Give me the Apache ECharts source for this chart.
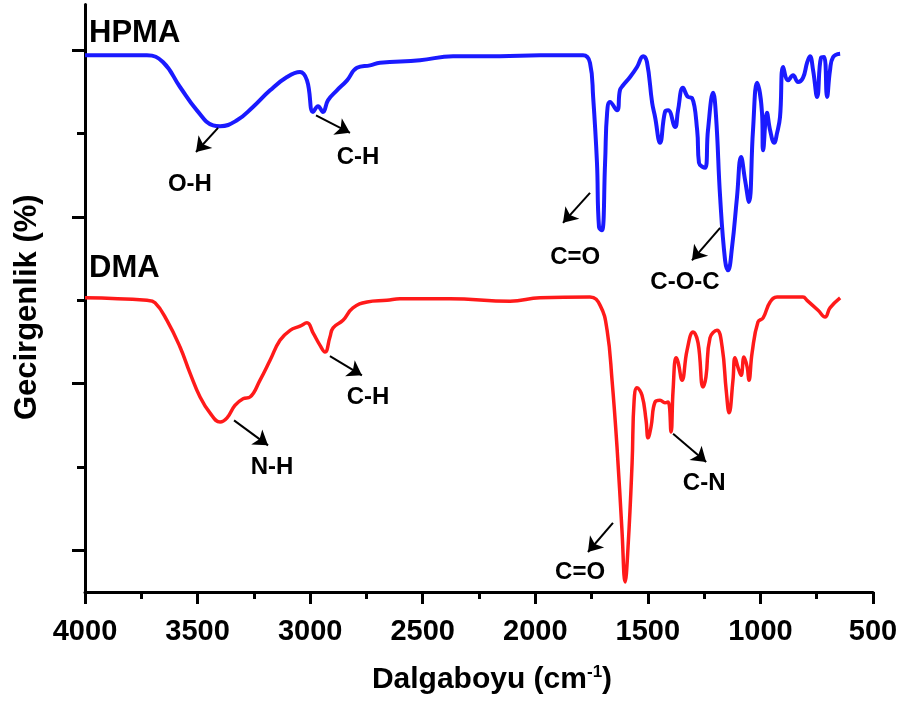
<!DOCTYPE html>
<html lang="tr">
<head>
    <meta charset="UTF-8">
    <title>FTIR HPMA / DMA</title>
    <style>
        html,body{margin:0;padding:0;background:#fff}
        #chart{width:904px;height:701px}
    </style>
</head>
<body>
<div id="chart"></div>
<script src="https://cdn.jsdelivr.net/npm/echarts@6/dist/echarts.min.js"></script>
<script>
    // HPMA (mavi) - dalga sayisi / gecirgenlik (keyfi birim)
    var hpmaX = [4000,3725,3654,3578,3503,3431,3400,3325,3254,3178,3103,3045,3014,2987,2965,2943,2921,2881,2836,2792,2734,2690,2512,2365,2157,1979,1788,1757,1743,1726,1717,1704,1690,1681,1668,1637,1624,1610,1579,1548,1521,1504,1481,1468,1446,1424,1410,1379,1366,1344,1321,1304,1281,1273,1246,1233,1210,1197,1179,1157,1144,1126,1104,1086,1068,1051,1033,1015,993,988,971,957,939,926,913,899,877,855,833,811,793,780,766,748,731,717,704,691,677,646];
    var hpmaY = [64.4,64.4,63.6,60.6,57.8,56.0,55.9,56.6,58.2,60.2,61.8,62.4,61.4,57.6,58.3,57.6,59.0,60.2,61.4,62.9,63.2,63.5,63.8,64.3,64.3,64.4,64.4,63.5,59.4,51.5,43.8,43.4,51.5,57.5,58.8,57.8,60.2,60.8,61.8,63.0,64.3,63.6,58.7,57.0,53.9,57.6,57.8,55.8,57.8,60.5,59.4,59.3,55.4,51.5,50.9,55.4,59.9,57.0,47.4,39.8,38.6,41.4,47.4,52.2,49.4,46.8,55.4,61.1,57.5,53.0,57.5,55.4,53.9,55.1,57.0,63.0,61.4,62.0,61.2,61.7,63.5,64.3,62.6,59.4,64.1,64.2,59.4,62.6,64.2,64.6];
    // DMA (kirmizi)
    var dmaX = [4000,3725,3689,3636,3578,3534,3489,3445,3400,3369,3334,3298,3267,3223,3178,3134,3089,3045,3014,2987,2956,2934,2912,2898,2854,2810,2747,2659,2601,2379,2112,1979,1757,1712,1681,1659,1637,1615,1601,1588,1570,1561,1548,1526,1508,1499,1486,1468,1446,1424,1410,1397,1388,1375,1366,1348,1326,1299,1277,1255,1242,1224,1193,1170,1152,1139,1122,1113,1099,1086,1073,1059,1051,1037,1011,988,957,926,811,793,744,713,691,646];
    var dmaY = [35.3,35.0,34.7,32.6,29.4,26.3,23.4,21.5,20.4,20.9,22.4,23.2,23.4,25.4,27.8,30.2,31.4,31.9,32.3,31.1,29.6,28.8,30.6,31.7,32.6,34.1,34.8,35.0,35.2,35.2,34.9,35.3,35.4,34.4,31.4,25.4,17.4,7.4,1.2,5.4,15.5,23.0,24.5,23.6,20.6,18.5,19.8,22.8,23.0,22.7,22.8,19.2,24.2,28.1,27.6,25.4,29.0,31.2,29.9,24.6,25.8,30.5,31.4,29.4,24.2,21.5,25.4,28.1,26.9,26.0,28.2,27.0,25.4,28.7,32.4,32.9,34.8,35.4,35.4,35.0,33.8,33.0,34.1,35.3];

    var yMajor = [5, 25, 45, 65];
    var yMinor = [15, 35, 55];

    // pik etiketleri: [ok baslangici, ok ucu, yazi yeri]
    var peakNames = ['O-H', 'C-H', 'C=O', 'C-O-C', 'N-H', 'C-H', 'C-N', 'C=O'];
    var arrowFrom = [[3409,55.7],[2974,57.2],[1757,47.9],[1179,43.7],[3338,20.6],[2912,28.3],[1388,19.0],[1655,8.3]];
    var arrowTo   = [[3507,52.8],[2823,55.1],[1877,44.3],[1304,39.8],[3187,17.6],[2770,26.0],[1241,15.6],[1766,4.8]];
    var labelAt   = [[3534,48.9],[2787,52.2],[1823,40.2],[1335,37.1],[3169,15.0],[2743,23.4],[1250,13.0],[1801,2.4]];

    var sampleNames = ['HPMA', 'DMA'];
    var sampleAt = [[3982,67.0],[3982,38.8]];

    var fontBold = 'Liberation Sans, Arial, sans-serif';

    function zip(xs, ys) {
        var out = [];
        for (var i = 0; i < xs.length; i++) out.push([xs[i], ys[i]]);
        return out;
    }

    var arrows = [];
    for (var i = 0; i < arrowFrom.length; i++) {
        arrows.push([{coord: arrowFrom[i]}, {coord: arrowTo[i]}]);
    }

    var yAxisBase = {
        type: 'value', min: 0, max: 70.5, position: 'left',
        splitLine: {show: false},
        axisLabel: {show: false}
    };

    var option = {
        animation: false,
        backgroundColor: '#fff',
        grid: {left: 85, right: 31, top: 4.5, bottom: 109, outerBoundsMode: 'none', containLabel: false},
        xAxis: {
            type: 'value', inverse: true, min: 500, max: 4000, interval: 500,
            name: '{t|Dalgaboyu (cm}{s|-1}{t|)}',
            nameLocation: 'middle', nameGap: 72,
            nameTextStyle: {
                padding: [0, 0, 0, 26],
                rich: {
                    t: {fontSize: 30, fontWeight: 'bold', fontFamily: fontBold, color: '#000'},
                    s: {fontSize: 17, fontWeight: 'bold', fontFamily: fontBold, color: '#000', verticalAlign: 'top', padding: [0, 0, 15, 0]}
                }
            },
            axisLine: {onZero: false, lineStyle: {color: '#000', width: 3}},
            axisTick: {show: true, length: 12, lineStyle: {color: '#000', width: 3}},
            minorTick: {show: true, splitNumber: 2, length: 7, lineStyle: {color: '#000', width: 3}},
            splitLine: {show: false},
            axisLabel: {
                margin: 25, fontSize: 29, fontWeight: 'bold', fontFamily: fontBold, color: '#000',
                formatter: function (v) { return String(v); }
            }
        },
        yAxis: [
            Object.assign({}, yAxisBase, {
                name: 'Gecirgenlik (%)', nameLocation: 'middle', nameGap: 42, nameRotate: 90,
                nameTextStyle: {fontSize: 31, fontWeight: 'bold', fontFamily: fontBold, color: '#000', verticalAlign: 'bottom', padding: [0, 18, 0, 0]},
                axisLine: {show: true, lineStyle: {color: '#000', width: 3}},
                axisTick: {show: true, length: 13, lineStyle: {color: '#000', width: 3}, customValues: yMajor}
            }),
            Object.assign({}, yAxisBase, {
                axisLine: {show: false},
                axisTick: {show: true, length: 8, lineStyle: {color: '#000', width: 3}, customValues: yMinor}
            })
        ],
        series: [
            {
                name: 'HPMA', type: 'line', data: zip(hpmaX, hpmaY),
                showSymbol: false, smooth: 0.45,
                lineStyle: {color: '#1a1aff', width: 4},
                z: 3
            },
            {
                name: 'DMA', type: 'line', data: zip(dmaX, dmaY),
                showSymbol: false, smooth: 0.45,
                lineStyle: {color: '#ff1a1a', width: 3.5},
                z: 3,
                markLine: {
                    silent: true, animation: false,
                    symbol: ['none', 'arrow'], symbolSize: 14,
                    lineStyle: {color: '#000', width: 2, type: 'solid'},
                    label: {show: false},
                    emphasis: {disabled: true},
                    data: arrows
                }
            }
        ]
    };

    var chart = echarts.init(document.getElementById('chart'));
    chart.setOption(option, true);

    // yazilar: veri koordinatlarindan piksele
    var graphics = [];
    function addText(name, at, align, size) {
        var p = chart.convertToPixel({gridIndex: 0}, at);
        graphics.push({
            type: 'text', x: p[0], y: p[1], z: 10, silent: true,
            style: {
                text: name, fill: '#000', align: align, verticalAlign: 'middle',
                font: 'bold ' + size + 'px ' + fontBold
            }
        });
    }
    for (var j = 0; j < labelAt.length; j++) addText(peakNames[j], labelAt[j], 'center', 24);
    for (var k = 0; k < sampleAt.length; k++) addText(sampleNames[k], sampleAt[k], 'left', 31);
    chart.setOption({graphic: graphics});
</script>
</body>
</html>
